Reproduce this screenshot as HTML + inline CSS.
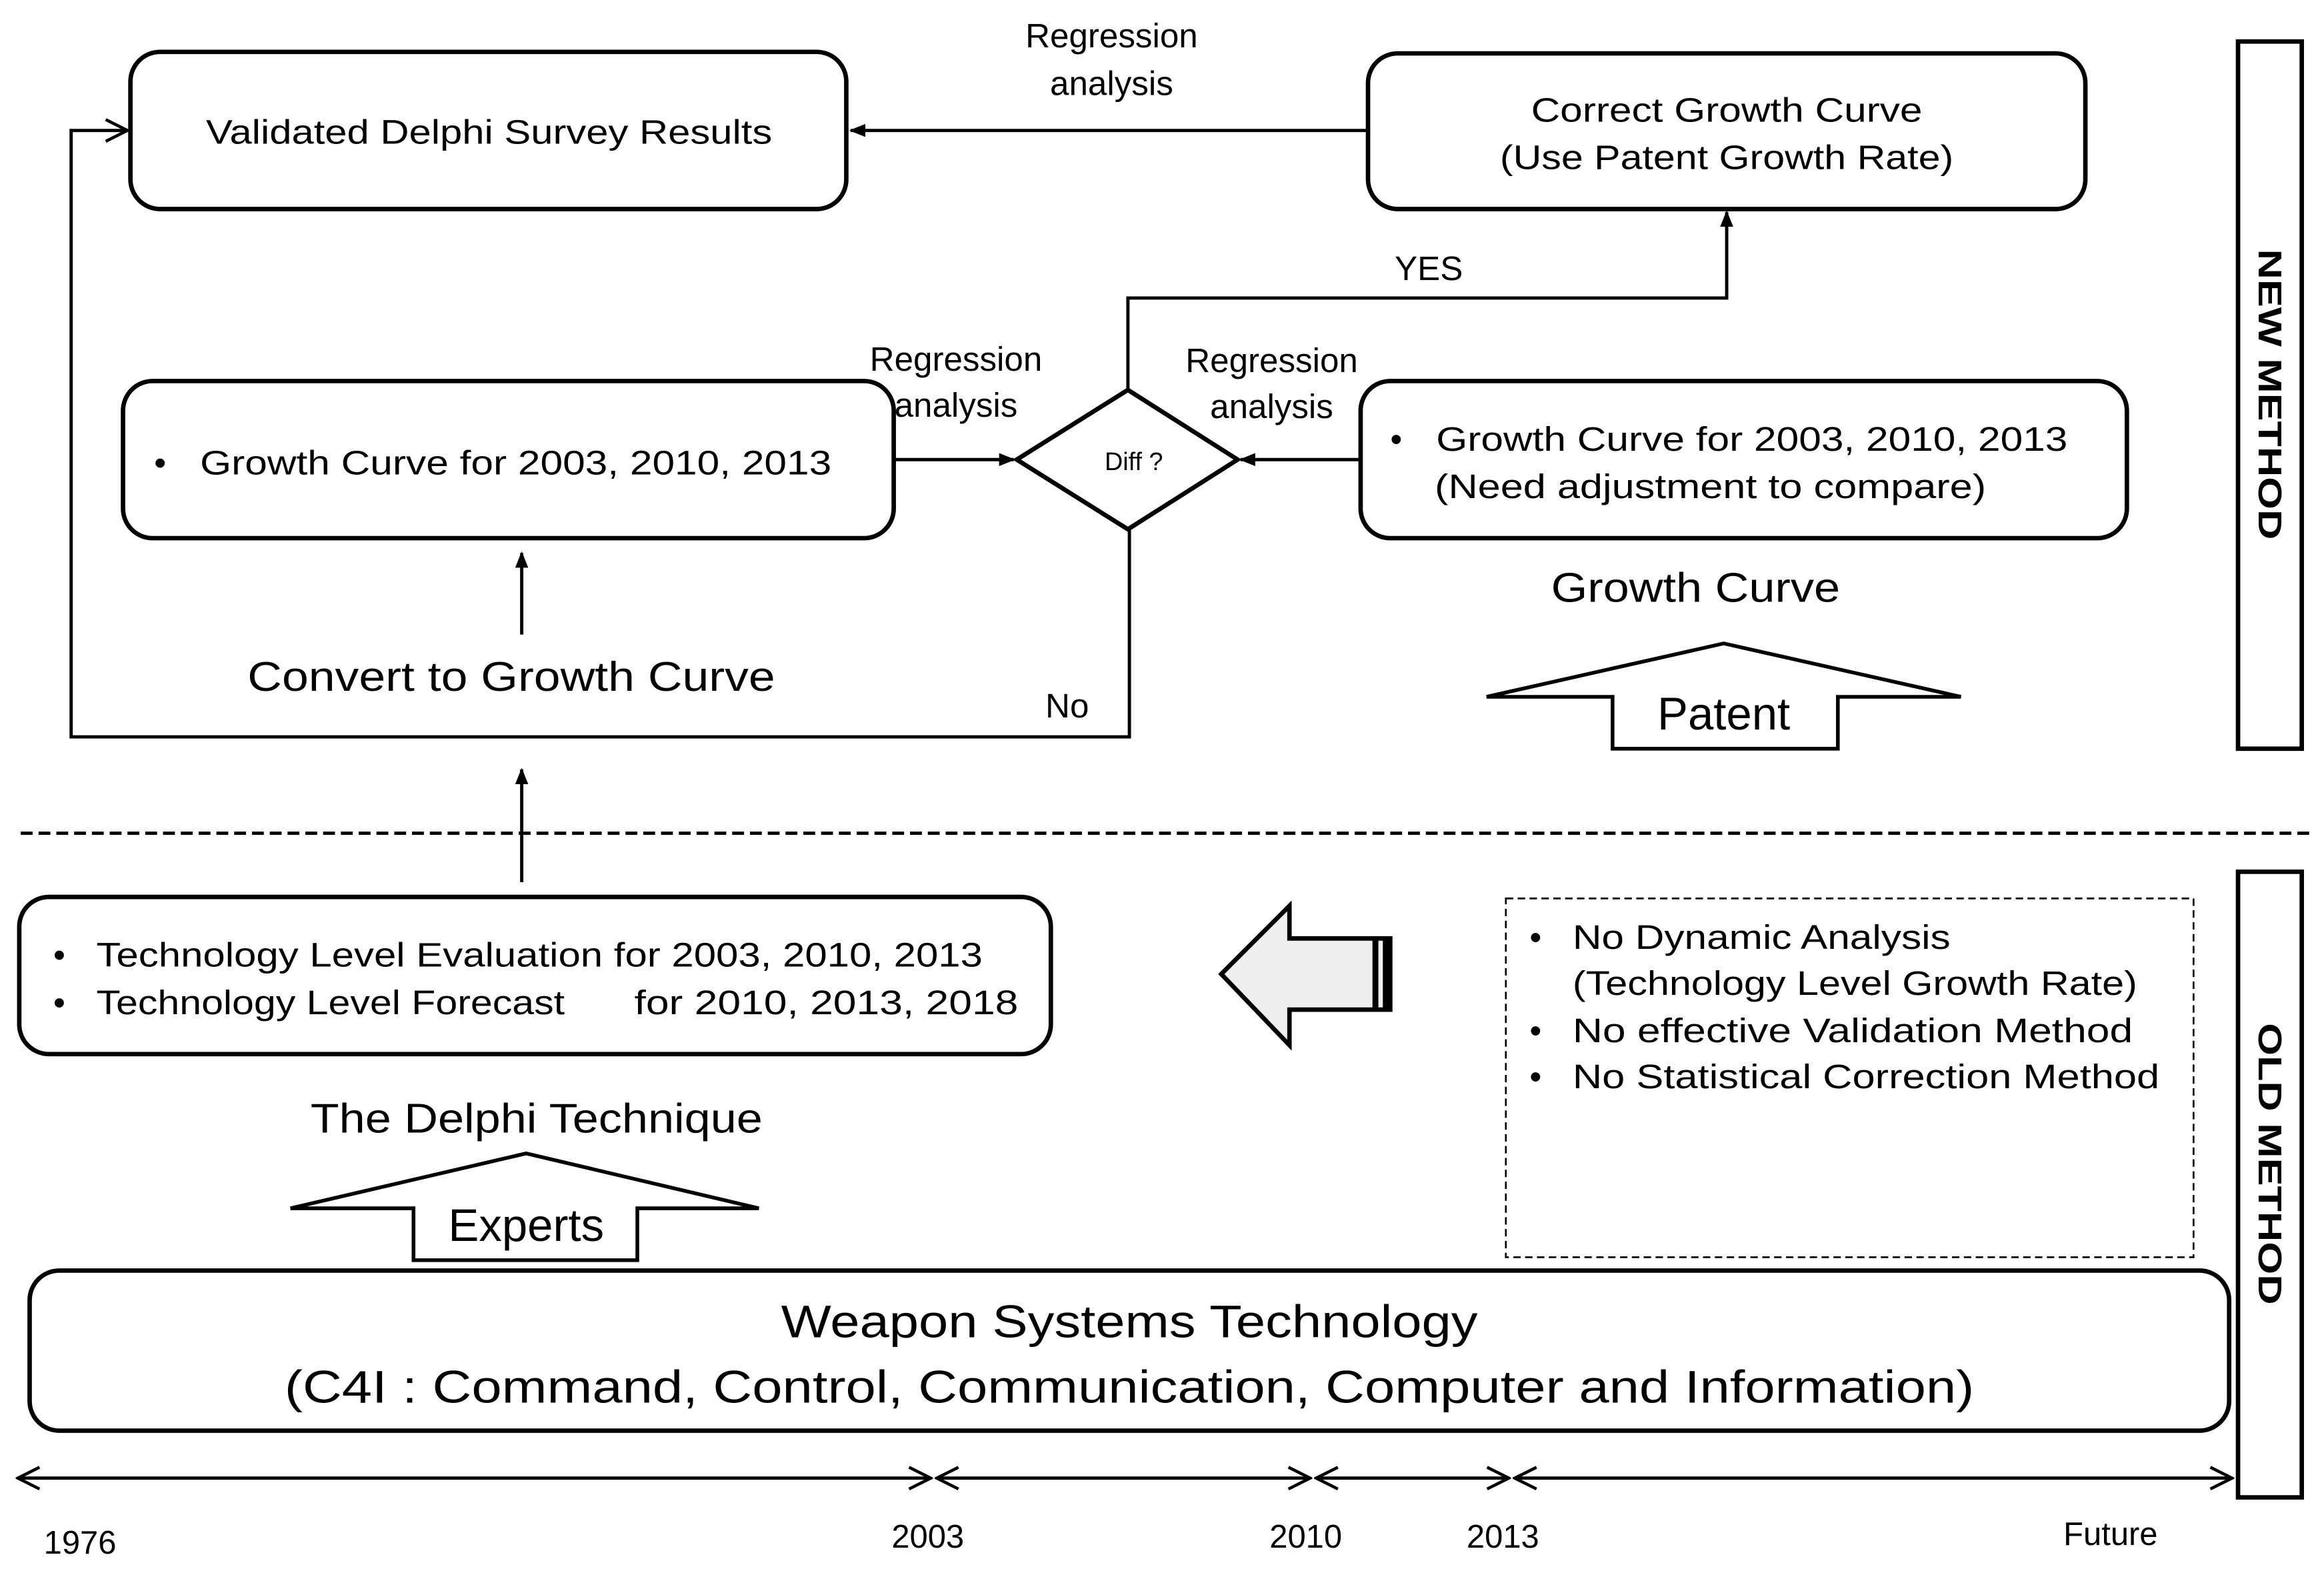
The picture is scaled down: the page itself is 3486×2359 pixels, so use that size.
<!DOCTYPE html>
<html><head><meta charset="utf-8">
<style>
html,body{margin:0;padding:0;background:#fff;}
svg{display:block;}
text{font-family:"Liberation Sans","DejaVu Sans",sans-serif;fill:#000;}
</style></head>
<body>
<svg width="3486" height="2359" viewBox="0 0 1568 1061" preserveAspectRatio="none" xmlns="http://www.w3.org/2000/svg">
<defs>
<marker id="ah" viewBox="0 0 10 10" refX="9" refY="5" markerWidth="5" markerHeight="5" orient="auto-start-reverse" markerUnits="strokeWidth">
<path d="M0,1 L10,5 L0,9 z" fill="#000"/></marker>
<marker id="oh" viewBox="0 0 12 12" refX="11" refY="6" markerWidth="8" markerHeight="8" orient="auto-start-reverse" markerUnits="strokeWidth">
<path d="M1,1 L11,6 L1,11" fill="none" stroke="#000" stroke-width="1.4"/></marker>
</defs>
<g fill="none" stroke="#000" stroke-width="3">
<rect x="88" y="35" width="483" height="106" rx="20"/>
<rect x="923" y="36" width="484" height="105" rx="20"/>
<rect x="83" y="257" width="520" height="106" rx="20"/>
<rect x="918" y="257" width="517" height="106" rx="20"/>
<polygon points="686,310 761,263 835,310 761,357"/>
<rect x="1510" y="28" width="43" height="477"/>
<rect x="1510" y="588" width="43" height="422"/>
<rect x="13" y="605" width="696" height="106" rx="20"/>
<rect x="20" y="857" width="1484" height="108" rx="20"/>
</g>
<g fill="none" stroke="#000" stroke-width="2.2">
<line x1="923" y1="88" x2="574" y2="88" marker-end="url(#ah)"/>
<polyline points="762,357 762,497 48,497 48,88 86,88" marker-end="url(#oh)"/>
<line x1="603" y1="310" x2="684" y2="310" marker-end="url(#ah)"/>
<line x1="918" y1="310" x2="837" y2="310" marker-end="url(#ah)"/>
<polyline points="761,263 761,201 1165,201 1165,143" marker-end="url(#ah)"/>
<line x1="352" y1="428" x2="352" y2="373" marker-end="url(#ah)"/>
<line x1="352" y1="595" x2="352" y2="519" marker-end="url(#ah)"/>
<line x1="14" y1="562" x2="1560" y2="562" stroke-dasharray="8,4"/>
<rect x="1016" y="606" width="464" height="242" stroke-width="1.2" stroke-dasharray="5,3"/>
<line x1="12" y1="997" x2="628" y2="997" marker-start="url(#oh)" marker-end="url(#oh)"/>
<line x1="632" y1="997" x2="884" y2="997" marker-start="url(#oh)" marker-end="url(#oh)"/>
<line x1="888" y1="997" x2="1018" y2="997" marker-start="url(#oh)" marker-end="url(#oh)"/>
<line x1="1022" y1="997" x2="1506" y2="997" marker-start="url(#oh)" marker-end="url(#oh)"/>
</g>
<polygon points="1003,470 1163,434 1323,470 1240,470 1240,505 1088,505 1088,470" fill="#fff" stroke="#000" stroke-width="2.5"/>
<polygon points="196,815 355,778 512,815 430,815 430,850 279,850 279,815" fill="#fff" stroke="#000" stroke-width="2.5"/>
<polygon points="824,657 870,611 870,633 938,633 938,681 870,681 870,705" fill="#eee" stroke="#000" stroke-width="3"/>
<rect x="926" y="633" width="4" height="48" fill="#000"/>
<rect x="933" y="633" width="6" height="48" fill="#000"/>

<g font-size="23">
<text x="330" y="97" text-anchor="middle" textLength="382" lengthAdjust="spacingAndGlyphs">Validated Delphi Survey Results</text>
<text x="1165" y="82" text-anchor="middle" textLength="264" lengthAdjust="spacingAndGlyphs">Correct Growth Curve</text>
<text x="1165" y="114" text-anchor="middle" textLength="306" lengthAdjust="spacingAndGlyphs">(Use Patent Growth Rate)</text>
<text x="750" y="32" text-anchor="middle">Regression</text>
<text x="750" y="64" text-anchor="middle">analysis</text>
<text x="645" y="250" text-anchor="middle">Regression</text>
<text x="645" y="281" text-anchor="middle">analysis</text>
<text x="858" y="251" text-anchor="middle">Regression</text>
<text x="858" y="282" text-anchor="middle">analysis</text>
<text x="104" y="320">•</text>
<text x="135" y="320" textLength="426" lengthAdjust="spacingAndGlyphs">Growth Curve for 2003, 2010, 2013</text>
<text x="938" y="304">•</text>
<text x="969" y="304" textLength="426" lengthAdjust="spacingAndGlyphs">Growth Curve for 2003, 2010, 2013</text>
<text x="968" y="336" textLength="372" lengthAdjust="spacingAndGlyphs">(Need adjustment to compare)</text>
<text x="964" y="189" text-anchor="middle">YES</text>
<text x="720" y="484" text-anchor="middle">No</text>
<text x="36" y="652">•</text>
<text x="65" y="652" textLength="598" lengthAdjust="spacingAndGlyphs">Technology Level Evaluation for 2003, 2010, 2013</text>
<text x="36" y="684">•</text>
<text x="65" y="684" textLength="316" lengthAdjust="spacingAndGlyphs">Technology Level Forecast</text>
<text x="428" y="684" textLength="259" lengthAdjust="spacingAndGlyphs">for 2010,  2013, 2018</text>
<text x="1032" y="640">•</text>
<text x="1061" y="640" textLength="255" lengthAdjust="spacingAndGlyphs">No Dynamic Analysis</text>
<text x="1061" y="671" textLength="381" lengthAdjust="spacingAndGlyphs">(Technology Level Growth Rate)</text>
<text x="1032" y="703">•</text>
<text x="1061" y="703" textLength="378" lengthAdjust="spacingAndGlyphs">No effective Validation Method</text>
<text x="1032" y="734">•</text>
<text x="1061" y="734" textLength="396" lengthAdjust="spacingAndGlyphs">No Statistical Correction Method</text>
</g>
<text x="765" y="317" font-size="17" text-anchor="middle">Diff ?</text>
<g font-size="28">
<text x="345" y="466" text-anchor="middle" textLength="356" lengthAdjust="spacingAndGlyphs">Convert to Growth Curve</text>
<text x="1144" y="406" text-anchor="middle" textLength="195" lengthAdjust="spacingAndGlyphs">Growth Curve</text>
<text x="362" y="764" text-anchor="middle" textLength="305" lengthAdjust="spacingAndGlyphs">The Delphi Technique</text>
</g>
<g font-size="31">
<text x="1163" y="492" text-anchor="middle">Patent</text>
<text x="355" y="837" text-anchor="middle">Experts</text>
<text x="762" y="902" text-anchor="middle" textLength="470" lengthAdjust="spacingAndGlyphs">Weapon Systems Technology</text>
<text x="762" y="946" text-anchor="middle" textLength="1140" lengthAdjust="spacingAndGlyphs">(C4I : Command, Control, Communication, Computer and Information)</text>
</g>
<g font-size="22" font-weight="bold">
<text transform="translate(1524,266) rotate(90)" text-anchor="middle" textLength="196" lengthAdjust="spacingAndGlyphs">NEW  METHOD</text>
<text transform="translate(1524,785) rotate(90)" text-anchor="middle" textLength="190" lengthAdjust="spacingAndGlyphs">OLD  METHOD</text>
</g>
<g font-size="22">
<text x="54" y="1048" text-anchor="middle">1976</text>
<text x="626" y="1044" text-anchor="middle">2003</text>
<text x="881" y="1044" text-anchor="middle">2010</text>
<text x="1014" y="1044" text-anchor="middle">2013</text>
<text x="1424" y="1042" text-anchor="middle">Future</text>
</g>
</svg>
</body></html>
